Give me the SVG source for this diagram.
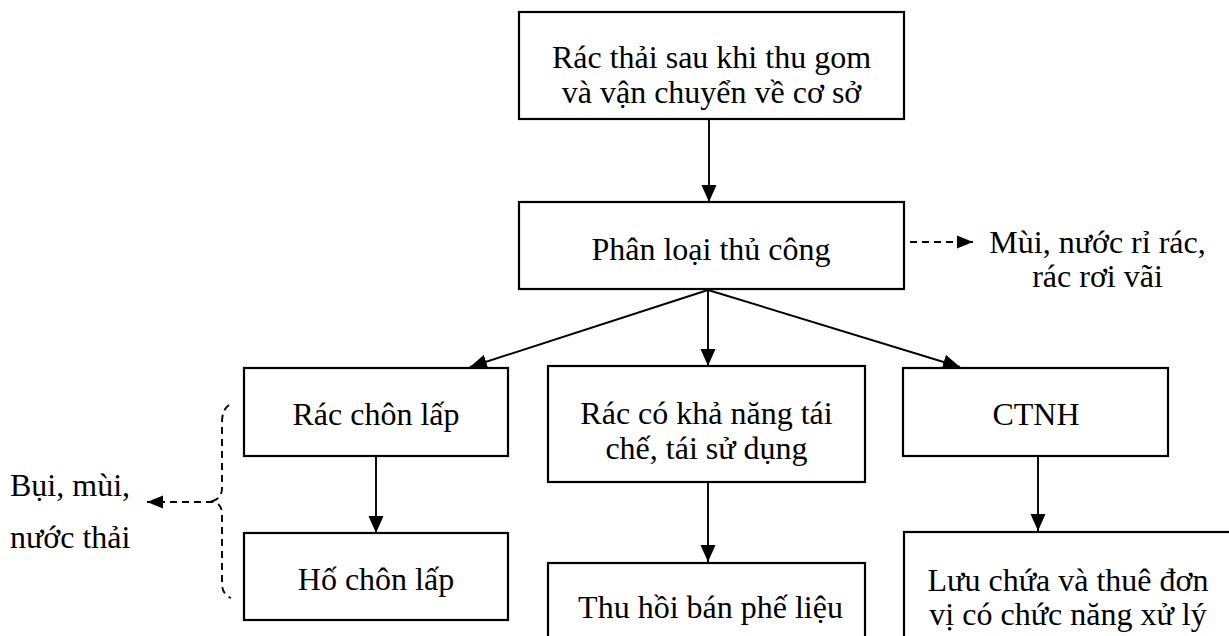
<svg xmlns="http://www.w3.org/2000/svg" width="1229" height="636" viewBox="0 0 1229 636">
<defs>
<style>
.box{fill:#fff;stroke:#000;stroke-width:2.2}
.ln{stroke:#000;stroke-width:1.9;fill:none}
.dl{stroke:#000;stroke-width:1.9;fill:none;stroke-dasharray:7 5}
text{font-family:"Liberation Serif","Times New Roman",serif;font-size:32px;fill:#000}
.c{text-anchor:middle}
</style>
<marker id="ah" markerUnits="userSpaceOnUse" markerWidth="17" markerHeight="16" refX="17" refY="8" orient="auto">
<path d="M0,0.5 L17,8 L0,15.5 z" fill="#000"/>
</marker>
<marker id="ahs" markerUnits="userSpaceOnUse" markerWidth="16" markerHeight="14" refX="16" refY="7" orient="auto">
<path d="M0,0.5 L16,7 L0,13.5 z" fill="#000"/>
</marker>
</defs>
<rect width="1229" height="636" fill="#fff"/>
<g id="connectors">
<line class="ln" x1="709" y1="119" x2="709" y2="202" marker-end="url(#ah)"/>
<line class="ln" x1="708" y1="290" x2="470" y2="367" marker-end="url(#ah)"/>
<line class="ln" x1="708" y1="290" x2="708" y2="366" marker-end="url(#ah)"/>
<line class="ln" x1="708" y1="290" x2="960" y2="367" marker-end="url(#ah)"/>
<line class="ln" x1="376" y1="456" x2="376" y2="533" marker-end="url(#ah)"/>
<line class="ln" x1="708" y1="482" x2="708" y2="562" marker-end="url(#ah)"/>
<line class="ln" x1="1038" y1="456" x2="1038" y2="531" marker-end="url(#ah)"/>
<line class="dl" x1="910" y1="242" x2="973" y2="242" marker-end="url(#ahs)"/>
<line class="dl" x1="213" y1="502" x2="147" y2="502" marker-end="url(#ahs)"/>
<path class="dl" d="M229,405 Q222,410 222,422 L222,488 Q222,498 213,501 Q222,504 222,514 L222,584 Q222,594 231,598"/>
</g>
<g id="n1"><rect class="box" x="519" y="12" width="385" height="107"/>
<text class="c" x="711.5" y="68">Rác thải sau khi thu gom</text>
<text class="c" x="711.5" y="103">và vận chuyển về cơ sở</text></g>
<g id="n2"><rect class="box" x="519" y="202" width="385" height="87"/>
<text class="c" x="711" y="260">Phân loại thủ công</text></g>
<g id="n3"><text class="c" x="1097.5" y="253">Mùi, nước rỉ rác,</text>
<text class="c" x="1097.5" y="287">rác rơi vãi</text></g>
<g id="n4"><rect class="box" x="244" y="368" width="264" height="88"/>
<text class="c" x="376" y="425">Rác chôn lấp</text></g>
<g id="n5"><rect class="box" x="548" y="366" width="317" height="116"/>
<text class="c" x="706.5" y="424">Rác có khả năng tái</text>
<text class="c" x="706.5" y="459">chế, tái sử dụng</text></g>
<g id="n6"><rect class="box" x="903" y="368" width="265" height="88"/>
<text class="c" x="1036" y="425">CTNH</text></g>
<g id="n7"><rect class="box" x="244" y="533" width="264" height="87"/>
<text class="c" x="376" y="590">Hố chôn lấp</text></g>
<g id="n8"><rect class="box" x="548" y="563" width="317" height="90"/>
<text class="c" x="710.5" y="618">Thu hồi bán phế liệu</text></g>
<g id="n9"><rect class="box" x="904" y="532" width="330" height="120"/>
<text class="c" x="1068" y="591">Lưu chứa và thuê đơn</text>
<text class="c" x="1068" y="625">vị có chức năng xử lý</text></g>
<g id="n10"><text x="10" y="496">Bụi, mùi,</text>
<text x="10" y="548">nước thải</text></g>
</svg>
